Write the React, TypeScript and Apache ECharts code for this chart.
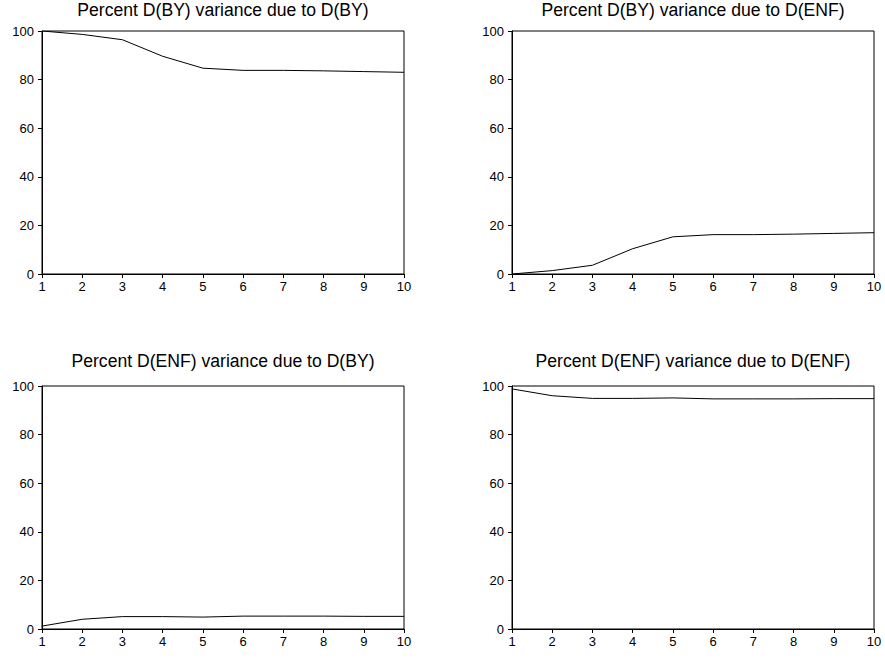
import React, { useEffect, useRef } from "react";
import * as echarts from "echarts";

const periods = ["1", "2", "3", "4", "5", "6", "7", "8", "9", "10"];
const byDueToBy = [100, 98.6, 96.4, 89.6, 84.7, 83.8, 83.8, 83.6, 83.3, 83.0];
const byDueToEnf = [0, 1.4, 3.6, 10.4, 15.3, 16.2, 16.2, 16.4, 16.7, 17.0];
const enfDueToBy = [1.2, 4.0, 5.1, 5.1, 4.9, 5.3, 5.3, 5.3, 5.2, 5.2];
const enfDueToEnf = [98.8, 96.0, 94.9, 94.9, 95.1, 94.7, 94.7, 94.7, 94.8, 94.8];
const titles = [
  "Percent D(BY) variance due to D(BY)",
  "Percent D(BY) variance due to D(ENF)",
  "Percent D(ENF) variance due to D(BY)",
  "Percent D(ENF) variance due to D(ENF)",
];
const yMin = 0;
const yMax = 100;
const yStep = 20;

const FONT = "Liberation Sans, Arial, sans-serif";

export default function App() {
  const ref = useRef<HTMLDivElement>(null);
  useEffect(() => {
    if (!ref.current) return;
    const chart = echarts.init(ref.current, undefined, { renderer: "svg" });
    const seriesData = [byDueToBy, byDueToEnf, enfDueToBy, enfDueToEnf];
    const grids = [
      { left: 42, top: 31, width: 362, height: 243 },
      { left: 512, top: 31, width: 362, height: 243 },
      { left: 42, top: 386, width: 362, height: 243 },
      { left: 512, top: 386, width: 362, height: 243 },
    ];
    const titleY = [1, 1, 352, 352];
    const option: any = {
      animation: false,
      backgroundColor: "#ffffff",
      grid: grids.map((g) => ({
        ...g,
        show: true,
        borderColor: "#000",
        borderWidth: 1,
        backgroundColor: "transparent",
        containLabel: false,
      })),
      xAxis: grids.map((_, i) => ({
        type: "category",
        gridIndex: i,
        data: periods,
        boundaryGap: false,
        axisLine: { lineStyle: { color: "#000", width: 1 } },
        axisTick: { show: true, length: 4, inside: false, lineStyle: { color: "#000" } },
        axisLabel: { color: "#000", fontSize: 13, fontFamily: FONT, margin: 6, interval: 0 },
        splitLine: { show: false },
      })),
      yAxis: grids.map((_, i) => ({
        type: "value",
        gridIndex: i,
        min: yMin,
        max: yMax,
        interval: yStep,
        axisLine: { show: true, lineStyle: { color: "#000", width: 1 } },
        axisTick: { show: true, length: 4, inside: false, lineStyle: { color: "#000" } },
        axisLabel: { color: "#000", fontSize: 13, fontFamily: FONT, margin: 8 },
        splitLine: { show: false },
      })),
      series: seriesData.map((d, i) => ({
        type: "line",
        xAxisIndex: i,
        yAxisIndex: i,
        data: d,
        symbol: "none",
        lineStyle: { color: "#000", width: 1 },
      })),
      graphic: titles.map((t, i) => ({
        type: "text",
        x: grids[i].left + grids[i].width / 2,
        y: titleY[i],
        style: {
          text: t,
          font: `17.6px ${FONT}`,
          fill: "#000",
          textAlign: "center",
          textVerticalAlign: "top",
        },
      })),
    };
    chart.setOption(option);
    return () => chart.dispose();
  }, []);
  return (
    <div
      ref={ref}
      style={{ position: "fixed", left: 0, top: 0, width: 885, height: 659, background: "#fff" }}
    />
  );
}
